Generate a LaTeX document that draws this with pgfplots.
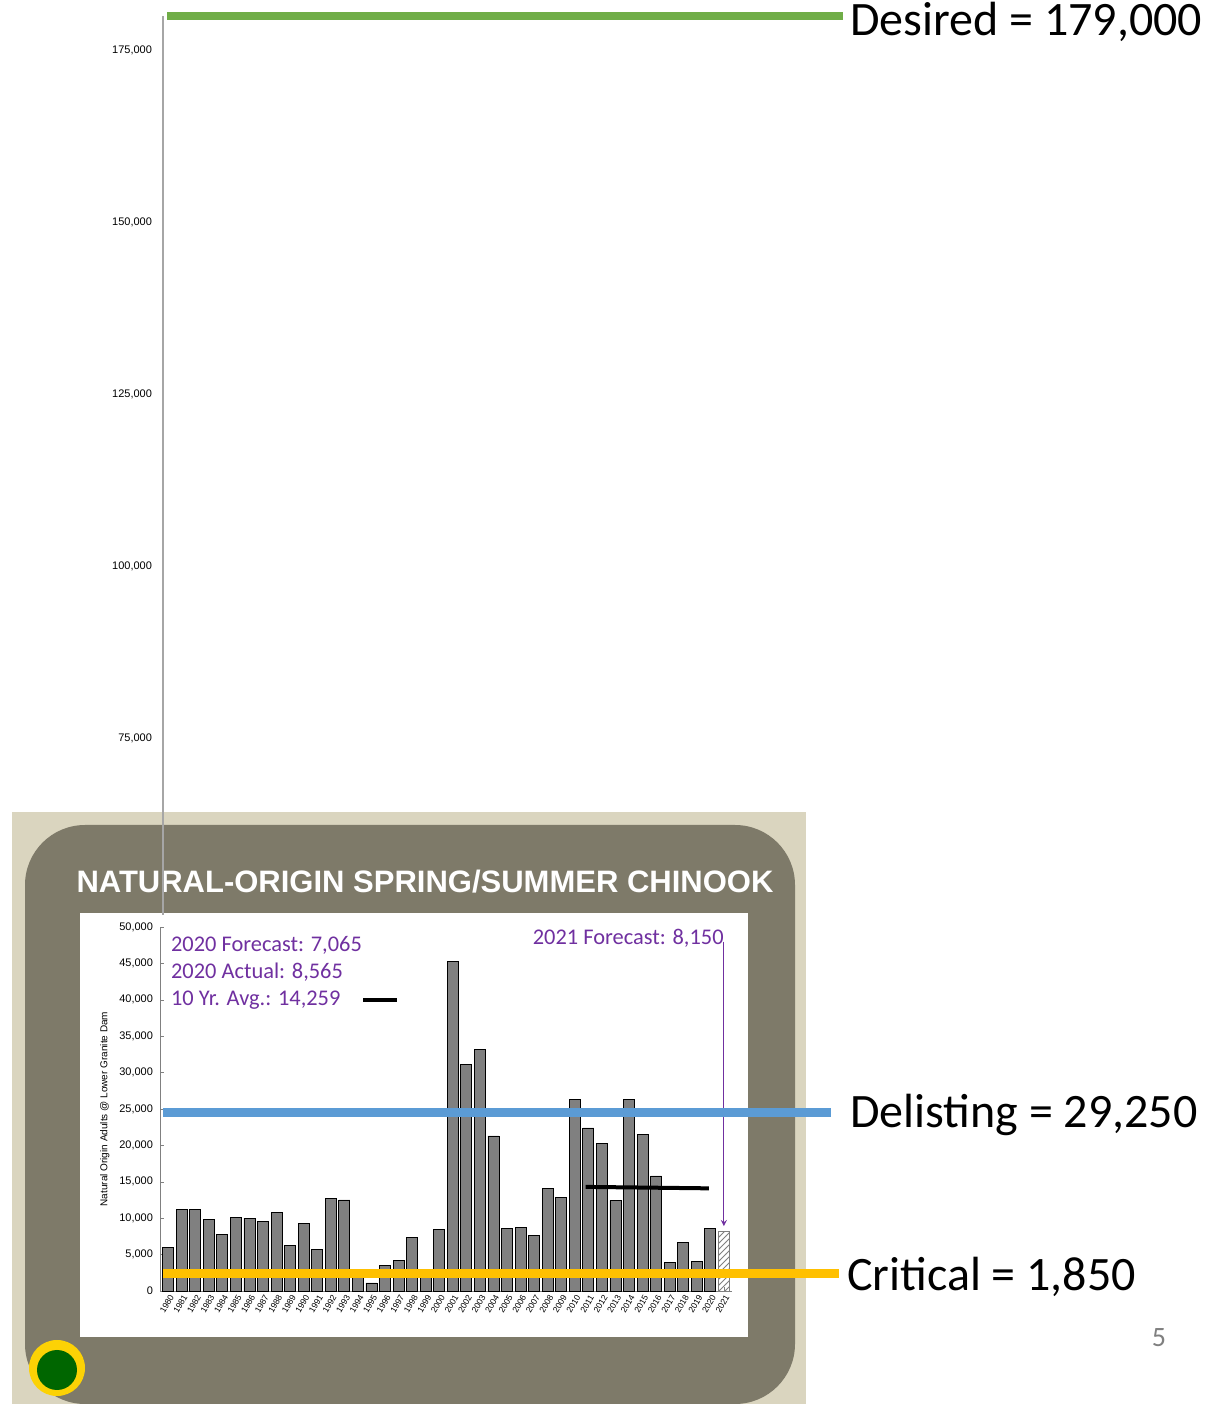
\documentclass[border=0pt]{standalone}
\usepackage{pgfplots}
\pgfplotsset{compat=1.18}
\usepackage{fontspec}
\setmainfont{Carlito}
\newfontfamily\arial{Liberation Sans}
\usetikzlibrary{patterns}
\definecolor{frameout}{HTML}{DAD5BF}
\definecolor{framein}{HTML}{7E7A69}
\definecolor{purp}{HTML}{7030A0}
\definecolor{blueL}{HTML}{5B9BD5}
\definecolor{greenL}{HTML}{70AD47}
\definecolor{yellowL}{HTML}{FFC000}
\tikzset{px/.style={x=0.5pt,y=-0.5pt,yshift=702pt}}
\begin{document}
\begin{tikzpicture}
\path[use as bounding box] (0,0) rectangle (610.5pt,702pt);
\begin{scope}[px]
\fill[frameout] (12,812) rectangle (806,1404);
\fill[framein,rounded corners=30pt] (25,825) rectangle (795,1404);
\fill[white] (80,913) rectangle (748,1337);
\node[text=white,font=\arial\bfseries\fontsize{15.5}{18}\selectfont] at (425,882) {NATURAL-ORIGIN SPRING/SUMMER CHINOOK};
\fill[yellow!70!orange] (57,1368) circle (28);
\fill[green!40!black] (57,1370) circle (20);
\end{scope}
% top extended axis
\begin{axis}[at={(81.5pt,244.5pt)},anchor=south west,scale only axis,width=1pt,height=449.5pt,
  ymin=49300,ymax=179950,xmin=0,xmax=1,scaled y ticks=false,
  axis y line*=left,hide x axis,axis line style={gray!70,line width=0.6pt},
  ytick={75000,100000,125000,150000,175000},major tick length=0pt,
  yticklabel style={font=\arial\fontsize{5.5}{6}\selectfont,xshift=-2pt},
  /pgf/number format/.cd,fixed,1000 sep={,},assume math mode=true]
\addplot[draw=none] coordinates {(0,60000)};
\end{axis}
% bottom chart
\begin{axis}[at={(80pt,56.5pt)},anchor=south west,scale only axis,width=286pt,height=182pt,
  ymin=0,ymax=50000,xmin=1979.4,xmax=2021.6,clip=false,scaled y ticks=false,
  axis x line*=bottom,axis y line*=left,axis line style={gray},
  ytick={0,5000,...,50000},xtick={1980,...,2021},
  major tick length=2pt,tick style={gray},
  yticklabel style={font=\arial\fontsize{5.5}{6}\selectfont},
  xticklabel style={font=\arial\fontsize{4.3}{5}\selectfont,rotate=60,anchor=north east,inner sep=1pt},
  xticklabel={\pgfmathprintnumber[fixed,1000 sep={}]{\tick}},
  ylabel={Natural Origin Adults @ Lower Granite Dam},
  ylabel style={font=\arial\fontsize{5}{6}\selectfont,yshift=-2pt},
  /pgf/number format/.cd,fixed,1000 sep={,},assume math mode=true]
\addplot[ybar,bar width=5.5pt,fill=gray,draw=black,line width=0.4pt] coordinates {
(1980,6000)(1981,11200)(1982,11200)(1983,9800)(1984,7800)(1985,10100)(1986,10000)(1987,9500)
(1988,10800)(1989,6300)(1990,9300)(1991,5700)(1992,12700)(1993,12500)(1994,1800)(1995,1100)
(1996,3500)(1997,4200)(1998,7300)(1999,2900)(2000,8400)(2001,45300)(2002,31100)(2003,33200)
(2004,21300)(2005,8600)(2006,8700)(2007,7600)(2008,14100)(2009,12900)(2010,26300)(2011,22400)
(2012,20300)(2013,12400)(2014,26300)(2015,21500)(2016,15800)(2017,3900)(2018,6700)(2019,4000)
(2020,8565)};
\addplot[ybar,bar width=5.5pt,pattern=north east lines,pattern color=gray,draw=gray] coordinates {(2021,8150)};
\addplot[black,line width=2pt] coordinates {(2010.8,14300)(2019.9,14100)};
\draw[purp,-{stealth}] (axis cs:2021,48000) -- (axis cs:2021,8900);
\node[purp,anchor=north east,font=\fontsize{11.2}{12}\selectfont] at (axis cs:2021.5,50600) {2021 Forecast: 8,150};
\node[purp,anchor=west,font=\fontsize{11.2}{12}\selectfont] at (axis cs:1979.7,47500) {2020 Forecast: 7,065};
\node[purp,anchor=west,font=\fontsize{11.2}{12}\selectfont] at (axis cs:1979.7,43800) {2020 Actual: 8,565};
\node[purp,anchor=west,font=\fontsize{11.2}{12}\selectfont] at (axis cs:1979.7,40000) {10 Yr. Avg.: 14,259};
\draw[black,line width=2pt] (axis cs:1994.4,40000) -- (axis cs:1996.9,40000);
\end{axis}
\begin{scope}[px]
\draw[greenL,line width=4pt] (167,16) -- (843,16);
\draw[blueL,line width=4.5pt] (163,1113) -- (831,1113);
\draw[yellowL,line width=4.5pt] (163,1274) -- (839,1274);
\node[anchor=west,font=\fontsize{24}{26}\selectfont] at (843,22) {Desired = 179,000};
\node[anchor=west,font=\fontsize{24}{26}\selectfont] at (843,1115) {Delisting = 29,250};
\node[anchor=west,font=\fontsize{24}{26}\selectfont] at (840,1277) {Critical = 1,850};
\node[gray,font=\fontsize{14}{16}\selectfont] at (1159,1338) {5};
\end{scope}
\end{tikzpicture}
\end{document}
